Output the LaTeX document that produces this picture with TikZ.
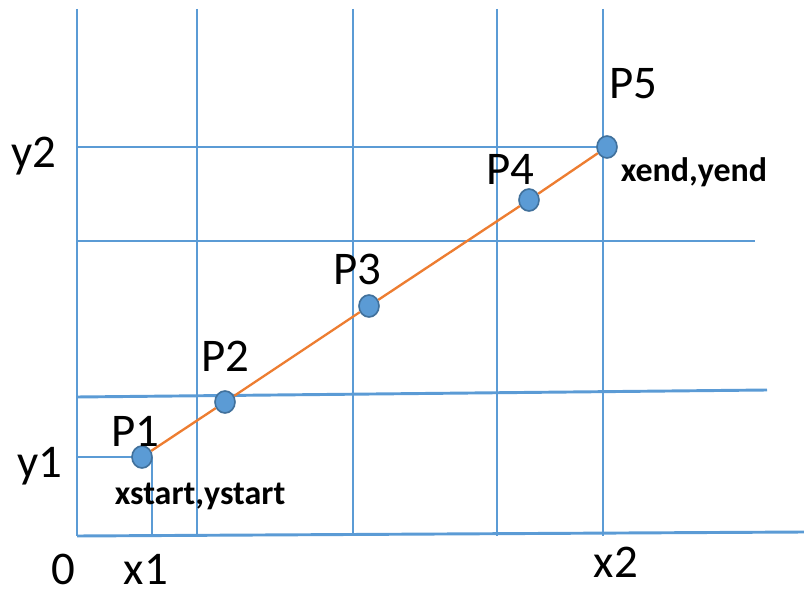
\documentclass[tikz,border=0pt]{standalone}
\usepackage{fontspec}
\setmainfont{Carlito}
\usepackage{tikz}
\usetikzlibrary{shapes.geometric}
\definecolor{gridblue}{HTML}{5B9BD5}
\definecolor{lineorange}{HTML}{ED7D31}
\definecolor{dotedge}{HTML}{41719C}

\begin{document}
\begin{tikzpicture}[x=0.03cm,y=-0.03cm,font=\fontsize{40}{48}\selectfont,
  gridline/.style={gridblue,line width=2.5pt},
  dot/.style={ellipse,fill=gridblue,draw=dotedge,line width=1.4pt,minimum width=0.6cm,minimum height=0.66cm,inner sep=0pt},
  coordlab/.style={font=\fontsize{29}{35}\selectfont\bfseries}]
  \useasboundingbox (0,0) rectangle (804,597);
  % grid
  \foreach \x in {77,197,353,497,603}
    \draw[gridline] (\x,9) -- (\x,536);
  \draw[gridline] (77,536) -- (804,532);
  \draw[gridline] (77,397) -- (767,390);
  \draw[gridline] (77,241) -- (755,241);
  \draw[gridline] (77,147) -- (607,147);
  \draw[gridline] (77,457) -- (142,457);
  \draw[gridline] (152,457) -- (152,536);
  % points on the line
  \node[dot] (P1) at (142,457) {};
  \node[dot] (P2) at (225,402) {};
  \node[dot] (P3) at (369,306) {};
  \node[dot] (P4) at (529,200) {};
  \node[dot] (P5) at (607,147) {};
  \draw[lineorange,line width=2pt] (P1) -- (P2) -- (P3) -- (P4) -- (P5);
  % labels
  \node (p1lab) at (135,431) {P1};
  \node (p2lab) at (225,356) {P2};
  \node (p3lab) at (357,269) {P3};
  \node (p4lab) at (510,169) {P4};
  \node (p5lab) at (633,84) {P5};
  \node (y2lab) at (34,156) {y2};
  \node (y1lab) at (40,466) {y1};
  \node (zero) at (63,569) {0};
  \node[inner sep=1pt] (x1lab) at (146,569) {x1};
  \node (x2lab) at (616,562) {x2};
  \node[coordlab] (startlab) at (200,496) {xstart,ystart};
  \node[coordlab] (endlab) at (694,172) {xend,yend};
\end{tikzpicture}
\end{document}
